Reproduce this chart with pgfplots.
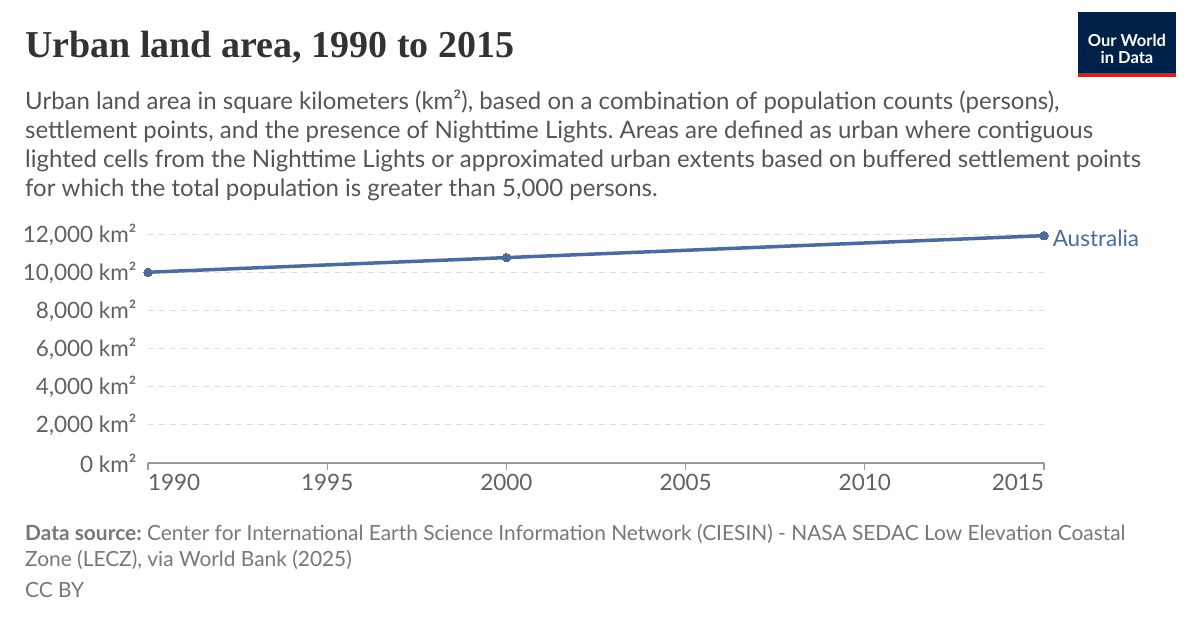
\documentclass[border=0pt]{standalone}
\usepackage{pgfplots}
\pgfplotsset{compat=1.18}
\usepackage{fontspec}
\setmainfont{Lato}
\newfontfamily\titlefont{Liberation Serif}
\definecolor{owidblue}{HTML}{4C6A9C}
\definecolor{tcol}{HTML}{333333}
\definecolor{scol}{HTML}{555555}
\definecolor{gcol}{HTML}{DDDDDD}
\definecolor{fcol}{HTML}{777777}
\definecolor{navy}{HTML}{002147}
\definecolor{owidred}{HTML}{CE261E}
\frenchspacing
\begin{document}
\begin{tikzpicture}[x=1pt,y=1pt]
\useasboundingbox (0,0) rectangle (1200,627);
% title
\node[anchor=base west, inner sep=0, text=tcol] at (25,{627-58}) {\titlefont\bfseries\fontsize{38}{42}\selectfont Urban land area, 1990 to 2015};
% subtitle
\begin{scope}[every node/.style={anchor=base west, inner sep=0, text=scol, font=\fontsize{24}{29}\selectfont}]
\node at (25,{627-110}) {Urban land area in square kilometers (km²), based on a combination of population counts (persons),};
\node at (25,{627-139}) {settlement points, and the presence of Nighttime Lights. Areas are defined as urban where contiguous};
\node at (25,{627-168}) {lighted cells from the Nighttime Lights or approximated urban extents based on buffered settlement points};
\node at (25,{627-197}) {for which the total population is greater than 5,000 persons.};
\end{scope}
% logo
\fill[navy] (1078,{627-73}) rectangle (1176,{627-12});
\fill[owidred] (1078,{627-77}) rectangle (1176,{627-73});
\node[anchor=base, inner sep=0, text=white, font=\bfseries\fontsize{16.5}{18}\selectfont] at (1127,{627-47}) {Our World};
\node[anchor=base, inner sep=0, text=white, font=\bfseries\fontsize{16.5}{18}\selectfont] at (1127,{627-64}) {in Data};
% footer
\begin{scope}[every node/.style={anchor=base west, inner sep=0, text=fcol, font=\fontsize{20.9}{24}\selectfont}]
\node at (25,{627-541}) {\textbf{Data source:} Center for International Earth Science Information Network (CIESIN) - NASA SEDAC Low Elevation Coastal};
\node at (25,{627-567}) {Zone (LECZ), via World Bank (2025)};
\node at (25,{627-597}) {CC BY};
\end{scope}
\begin{axis}[
  at={(148pt,{(627-463)*1pt})}, anchor=south west,
  scale only axis, width=896pt, height=228pt,
  xmin=1990, xmax=2015, ymin=0, ymax=12000,
  scaled y ticks=false, scaled x ticks=false,
  axis lines*=left,
  y axis line style={draw=none},
  x axis line style={draw=black!40, line width=1.2pt},
  xtick={1990,1995,2000,2005,2010,2015},
  xticklabels={\makebox[0pt][l]{1990},1995,2000,2005,2010,\makebox[0pt][r]{2015}},
  ytick={0,2000,4000,6000,8000,10000,12000},
  yticklabels={0 km²,{2,000 km²},{4,000 km²},{6,000 km²},{8,000 km²},{10,000 km²},{12,000 km²}},
  ymajorgrids,
  grid style={gcol, dash pattern=on 6pt off 5pt, line width=1pt},
  ytick style={draw=none},
  xtick style={draw=black!40, line width=1.2pt},
  tick align=outside,
  major tick length=7pt,
  tick label style={text=black!62, font=\fontsize{22.5}{24}\selectfont},
  yticklabel style={xshift=-1pt},
  xticklabel style={yshift=-1pt},
  clip=false,
]
\addplot[owidblue, line width=3.5pt, mark=*, mark size=4.2pt, mark options={line width=0pt}] coordinates {
  (1990,10040) (2000,10810) (2015,11965)
} node[pos=1, anchor=west, inner sep=0, xshift=7pt, yshift=-3pt, text=owidblue, font=\fontsize{22.5}{24}\selectfont] {Australia};
\end{axis}
\end{tikzpicture}
\end{document}
